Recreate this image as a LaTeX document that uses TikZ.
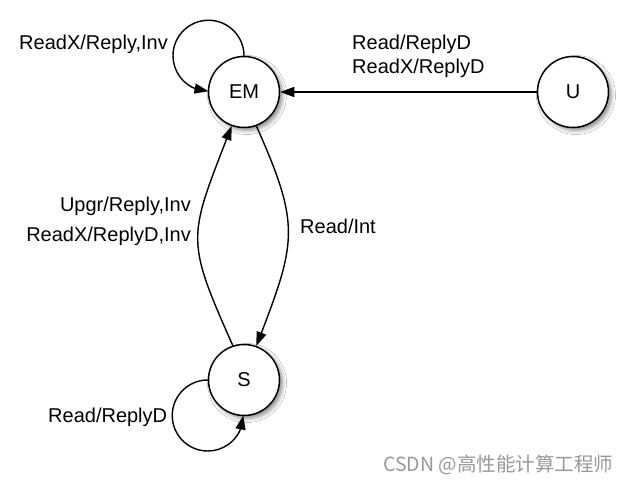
\documentclass[tikz,border=0pt]{standalone}
\usepackage{fontspec}
\setmainfont{Liberation Sans}
\newfontfamily\cjkfont{Noto Sans CJK SC}
\usetikzlibrary{arrows.meta,bending,shadows.blur}
\begin{document}
\begin{tikzpicture}[x=1pt,y=1pt,
  state/.style={circle,draw,line width=1.5pt,fill=white,minimum size=71pt,inner sep=0pt,
    font=\fontsize{20}{24}\selectfont,
    blur shadow={shadow xshift=3pt,shadow yshift=-3pt,shadow blur radius=4pt,shadow opacity=45}},
  tr/.style={line width=1.4pt,-{Triangle[length=14pt,width=10pt]}},
  lbl/.style={inner sep=0pt,font=\fontsize{20}{24}\selectfont}]
\useasboundingbox[fill=white] (0,0) rectangle (629,-483);
\node[state] (EM) at (244,-92) {EM};
\node[state] (U) at (573,-92) {U};
\node[state] (S) at (244,-380) {S};
\draw[tr] (U) -- (EM);
\draw[tr] (EM.90) arc[start angle=0,end angle=270,radius=35.5];
\draw[tr] (S.180) arc[start angle=90,end angle=360,radius=35.5];
\draw[tr] (EM.290) to[out=-66,in=69,looseness=1.3] (S.70);
\draw[tr] (S.108) to[out=114,in=-111,looseness=1.4] (EM.250);
\node[lbl,anchor=base west] (l1) at (19,-49) {ReadX/Reply,Inv};
\node[lbl,anchor=base west] (l2) at (352,-49) {Read/ReplyD};
\node[lbl,anchor=base west] (l3) at (352,-73) {ReadX/ReplyD};
\node[lbl,anchor=base east] (l4) at (191,-211) {Upgr/Reply,Inv};
\node[lbl,anchor=base east] (l5) at (191,-241) {ReadX/ReplyD,Inv};
\node[lbl,anchor=base west] (l6) at (300,-233) {Read/Int};
\node[lbl,anchor=base west] (l7) at (48,-422) {Read/ReplyD};
\node[inner sep=0pt,anchor=base west,text=black!40,font=\cjkfont\fontsize{19.5}{22}\selectfont] (wm) at (383,-471) {CSDN @高性能计算工程师};
\end{tikzpicture}
\end{document}
